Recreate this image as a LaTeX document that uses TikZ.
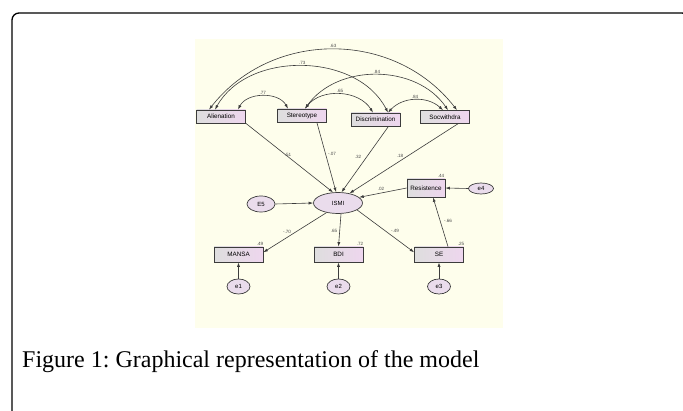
\documentclass[tikz,border=0pt]{standalone}
\usepackage{fontspec}
\setmainfont{Liberation Serif}
\newfontfamily\amosfont{Liberation Sans}
\usetikzlibrary{arrows.meta,shapes.geometric}
\definecolor{cream}{RGB}{254,254,236}
\definecolor{boxgray}{RGB}{222,222,222}
\definecolor{boxpink}{RGB}{238,214,238}
\definecolor{ovalfill}{RGB}{234,220,236}
\definecolor{edge}{RGB}{60,60,60}
\frenchspacing
\begin{document}
\begin{tikzpicture}[x=1pt,y=1pt]
\tikzstyle{every node}+=[inner sep=0pt]
\tikzstyle{obs}=[draw=edge,line width=0.7pt,left color=boxgray,right color=boxpink,minimum width=49pt,minimum height=13pt,font=\amosfont\fontsize{6.3}{7}\selectfont]
\tikzstyle{lat}=[ellipse,draw=edge,line width=0.7pt,fill=ovalfill,font=\amosfont\fontsize{6}{7}\selectfont]
\tikzstyle{reg}=[edge,line width=0.6pt,-{Latex[length=4.5pt,width=3pt]}]
\tikzstyle{err}=[edge,line width=1pt,-{Latex[length=4.5pt,width=3.2pt]}]
\tikzstyle{cov}=[edge,line width=0.6pt,{Latex[length=4.5pt,width=3pt]}-{Latex[length=4.5pt,width=3pt]}]
\tikzstyle{coef}=[font=\amosfont\fontsize{4.6}{5}\selectfont,text=black!70]
\useasboundingbox (0,0) rectangle (683,-411);
\fill [white] (0,0) rectangle (683,-411);
\draw [black,line width=1.3pt,rounded corners=7pt] (12,-420) -- (12,-13) -- (689,-13) -- (689,-420);
\fill [cream] (195,-39) rectangle (503,-328);
% exogenous
\draw (221,-116.5) node [obs] (ali) {Alienation};
\draw (302,-115.5) node [obs] (ste) {Stereotype};
\draw (375.5,-119.5) node [obs] (dis) {Discrimination};
\draw (445,-117) node [obs] (soc) {Socwithdra};
% latent + errors
\draw (338,-203) node [lat,minimum width=49pt,minimum height=21pt] (ismi) {ISMI};
\draw (261,-204) node [lat,minimum width=28pt,minimum height=16pt] (e5) {E5};
\draw (426,-188) node [obs,minimum width=38pt,minimum height=18pt] (res) {Resistence};
\draw (481,-188.5) node [lat,minimum width=25pt,minimum height=11pt] (e4) {e4};
\draw (238.5,-254.5) node [obs,minimum height=15pt] (mansa) {MANSA};
\draw (338.5,-254.5) node [obs,minimum height=15pt] (bdi) {BDI};
\draw (439,-254.5) node [obs,minimum height=15pt] (se) {SE};
\draw (238.5,-286.5) node [lat,minimum width=23pt,minimum height=15pt] (e1) {e1};
\draw (338.5,-286.5) node [lat,minimum width=23pt,minimum height=15pt] (e2) {e2};
\draw (439,-286.5) node [lat,minimum width=23pt,minimum height=15pt] (e3) {e3};
% correlations
\draw [cov] ([xshift=-12]ali.north) to [bend left=52,looseness=1.05] node [coef,midway,above=1.5pt] {.63} ([xshift=12]soc.north);
\draw [cov] ([xshift=-6]ali.north) to [bend left=62] node [coef,midway,above=1.5pt] {.73} ([xshift=12.5]dis.north);
\draw [cov] ([xshift=3]ste.north) to [bend left=55] node [coef,midway,above=1.5pt] {.84} ([xshift=3]soc.north);
\draw [cov] ([xshift=17]ali.north) to [bend left=62] node [coef,midway,above=1.5pt] {.77} ([xshift=-14]ste.north);
\draw [cov] ([xshift=3]ste.north) to [bend left=55] node [coef,midway,above=1.5pt] {.65} ([xshift=-2.5]dis.north);
\draw [cov] ([xshift=12.5]dis.north) to [bend left=45] node [coef,midway,above=1.5pt] {.84} ([xshift=-2]soc.north);
% paths
\draw [reg] (ali.south east) -- (ismi.115);
\draw [reg] ([xshift=-10]ste.south east) -- (ismi.100);
\draw [reg] ([xshift=13]dis.south) -- (ismi.72);
\draw [reg] ([xshift=-12]soc.south east) -- (ismi.40);
\draw [reg] (res.west) -- (ismi.15);
\draw [reg] (e4.west) -- (res.east);
\draw [reg] (e5.east) -- (ismi.west);
\draw [reg] (ismi.220) -- (mansa.5);
\draw [reg] ([xshift=3]ismi.south) -- (bdi.north);
\draw [reg] (ismi.340) -- (se.175);
\draw [reg] ([xshift=9]se.north) -- ([xshift=7]res.south);
\draw [err] (e1) -- (mansa);
\draw [err] (e2) -- (bdi);
\draw [err] (e3) -- (se);
% estimates
\draw (288,-155) node [coef] {.51};
\draw (332,-154) node [coef] {-.07};
\draw (358,-157) node [coef] {.32};
\draw (400,-156) node [coef] {.18};
\draw (381,-189) node [coef] {.02};
\draw (287,-232) node [coef] {-.70};
\draw (334,-231) node [coef] {.65};
\draw (395,-231) node [coef] {-.49};
\draw (448,-221) node [coef] {-.66};
\draw (441,-176) node [coef] {.44};
\draw (260,-244) node [coef] {.49};
\draw (360,-244) node [coef] {.72};
\draw (461,-244) node [coef] {.25};
\draw (22,-368) node [anchor=base west,font=\fontsize{24}{28}\selectfont] (cap) {Figure 1: Graphical representation of the model};
\end{tikzpicture}
\end{document}
